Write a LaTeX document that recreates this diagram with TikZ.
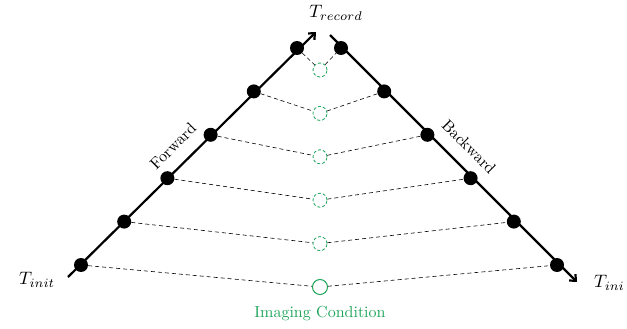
\documentclass[tikz,border=0pt]{standalone}
\usetikzlibrary{arrows.meta}
\definecolor{imgreen}{RGB}{30,165,90}
\begin{document}
\begin{tikzpicture}[x=1pt,y=-1pt,
  axis/.style={line width=2.2pt,-{Straight Barb[length=5pt,width=9pt]}},
  dot/.style={circle,fill=black,inner sep=0pt,minimum size=14pt},
  gcirc/.style={circle,draw=imgreen,dashed,dash pattern=on 3pt off 2pt,line width=0.8pt,inner sep=0pt,minimum size=14pt},
  gsolid/.style={circle,draw=imgreen,line width=1pt,inner sep=0pt,minimum size=15pt},
  link/.style={dashed,dash pattern=on 4pt off 3pt,line width=0.6pt},
  lbl/.style={scale=1.6},
  mlbl/.style={scale=1.8,inner sep=0.5pt}]
\useasboundingbox (0,0) rectangle (627,329);
\coordinate (ls) at (68,277);
\coordinate (le) at (316,32);
\coordinate (rs) at (330,35);
\coordinate (re) at (577,282);
\draw[axis] (ls) -- (le);
\draw[axis] (rs) -- (re);
\foreach \i/\y in {0/265,1/221.6,2/178.2,3/134.8,4/91.4,5/48} {
  \pgfmathsetmacro{\lx}{81+43.2*\i}
  \pgfmathsetmacro{\rx}{557-43.2*\i}
  \node[dot] (L\i) at (\lx,\y) {};
  \node[dot] (R\i) at (\rx,\y) {};
}
\node[gsolid] (G0) at (320,287) {};
\foreach \i/\y in {1/243.6,2/200.2,3/156.8,4/113.4,5/70} {
  \node[gcirc] (G\i) at (320,\y) {};
}
\foreach \i in {0,...,5} {
  \draw[link] (L\i) -- (G\i) -- (R\i);
}
\node[mlbl] (tinit) at (37,280) {$T_{init}$};
\node[mlbl] (trec) at (336,13) {$T_{record}$};
\node[mlbl,anchor=east] (tini) at (626,283) {$T_{ini}$};
\node[lbl,text=imgreen] (ic) at (320,314) {Imaging Condition};
\node[lbl,rotate=45] (fw) at (173,146) {Forward};
\node[lbl,rotate=-45] (bw) at (469,147) {Backward};
\end{tikzpicture}
\end{document}
